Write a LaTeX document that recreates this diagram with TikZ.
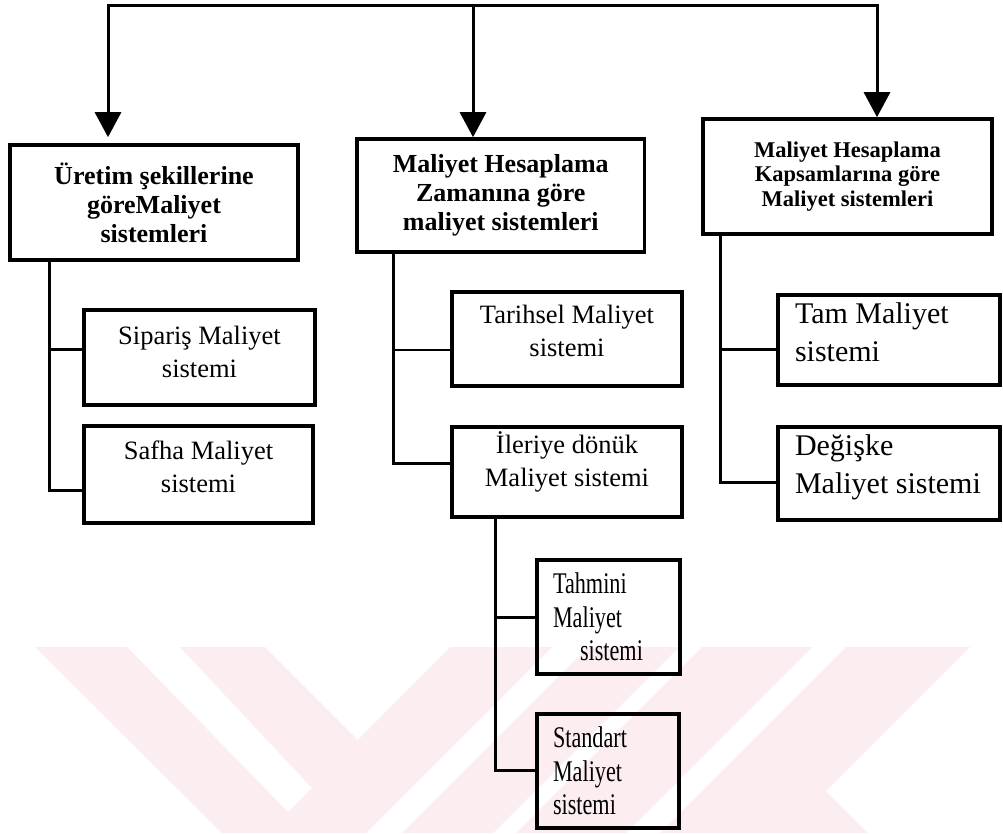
\documentclass[tikz,border=0pt]{standalone}
\usepackage{fontspec}
\setmainfont{Liberation Serif}
\newfontfamily\narrowserif[FakeStretch=0.74]{Liberation Serif}
\usetikzlibrary{arrows.meta,calc}
\definecolor{tezpink}{RGB}{252,237,240}
\newcommand{\lowpad}[1]{\rule[-#1]{0pt}{#1}}

\begin{document}
\begin{tikzpicture}[x=1pt,y=-1pt,
	box/.style={draw, line width=3.6pt, inner xsep=0pt, inner ysep=0pt, align=flush center},
	head/.style={box, font=\fontsize{26}{29}\selectfont\bfseries},
	smallhead/.style={box, font=\fontsize{22.5}{24.5}\selectfont\bfseries},
	sub/.style={box, font=\fontsize{26.5}{33}\selectfont},
	leftbox/.style={box, align=flush left, inner xsep=17pt, font=\fontsize{30}{38}\selectfont},
	narrowbox/.style={box, align=flush left, inner xsep=16pt, font=\narrowserif\fontsize{30}{33.5}\selectfont},
	bus/.style={line width=3pt, line cap=rect},
	arr/.style={line width=3pt, -{Triangle[length=25pt,width=26pt]}},
	trunk/.style={line width=3pt},
	branch/.style={line width=2.4pt}]
	\fill[white] (0,0) rectangle (1003,833);
	\useasboundingbox (0,0) rectangle (1003,833);
	% watermark
	\fill[tezpink] (35,647) -- (127,647) -- (288,812) -- (312,788) -- (180,647) -- (265,647) -- (358,740) -- (450,647) -- (552,647) -- (366,833) -- (222,833) -- cycle;
	\fill[tezpink] (588,647) -- (679,647) -- (493,833) -- (402,833) -- cycle;
	\fill[tezpink] (702,647) -- (812,647) -- (626,833) -- (516,833) -- cycle;
	\fill[tezpink] (846,647) -- (970,647) -- (826,791) -- (868,833) -- (660,833) -- cycle;

	\node[head, text width=288pt, minimum height=115pt] (uretim) at (154,202.5) {Üretim şekillerine\\göreMaliyet\\sistemleri};
	\node[head, text width=287.5pt, minimum height=113pt] (zaman) at (500.75,195.5) {Maliyet Hesaplama\\Zamanına göre\\maliyet sistemleri};
	\node[smallhead, text width=289pt, minimum height=115pt] (kapsam) at (847.5,176.5) {Maliyet Hesaplama\\Kapsamlarına göre\\Maliyet sistemleri};

	\node[sub, text width=231pt, minimum height=95pt] (siparis) at (199.5,357.5) {Sipariş Maliyet\\sistemi\lowpad{11pt}};
	\node[sub, text width=229pt, minimum height=97pt] (safha) at (198.5,474.5) {Safha Maliyet\\sistemi\lowpad{15pt}};
	\node[sub, text width=230pt, minimum height=94pt] (tarihsel) at (567,339) {Tarihsel Maliyet\\sistemi\lowpad{17pt}};
	\node[sub, text width=230pt, minimum height=90pt] (ileriye) at (567,472) {İleriye dönük\\Maliyet sistemi\lowpad{26pt}};
	\node[leftbox, text width=188pt, minimum height=90pt] (tam) at (889,340) {Tam Maliyet\\sistemi\lowpad{16pt}};
	\node[leftbox, text width=188pt, minimum height=93pt] (degiske) at (889,473.5) {Değişke\\Maliyet sistemi\lowpad{19.5pt}};
	\node[narrowbox, text width=111pt, minimum height=114pt] (tahmini) at (608.5,617) {Tahmini\\Maliyet\\\hspace*{27pt}sistemi};
	\node[narrowbox, text width=110pt, minimum height=114pt] (standart) at (608,771) {Standart\\Maliyet\\sistemi};

	% top line and arrows
	\coordinate (t1) at (108,5);
	\coordinate (t2) at (473,5);
	\coordinate (t3) at (877,5);
	\draw[bus] (t1) -- (t3);
	\draw[arr, shorten >=6pt] (t1) -- (uretim.north -| t1);
	\draw[arr] (t2) -- (zaman.north -| t2);
	\draw[arr] (t3) -- (kapsam.north -| t3);

	% trunks
	\coordinate (k1) at (49,0);
	\coordinate (k2) at (393,0);
	\coordinate (k3) at (720,0);
	\coordinate (k4) at (495,0);
	\draw[trunk] (uretim.south -| k1) |- ($(safha.west)+(0,15.5)$);
	\draw[branch] ($(siparis.west)+(0,-8)$) -- ++(-33,0);
	\draw[trunk] (zaman.south -| k2) |- ($(ileriye.west)+(0,-8.5)$);
	\draw[branch] ($(tarihsel.west)+(0,11)$) -- ++(-57,0);
	\draw[trunk] (kapsam.south -| k3) |- ($(degiske.west)+(0,8.5)$);
	\draw[branch] ($(tam.west)+(0,9.5)$) -- ++(-56,0);
	\draw[trunk] (ileriye.south -| k4) |- ($(standart.west)+(0,-1)$);
	\draw[branch] ($(tahmini.west)+(0,0.5)$) -- ++(-40,0);
\end{tikzpicture}
\end{document}
